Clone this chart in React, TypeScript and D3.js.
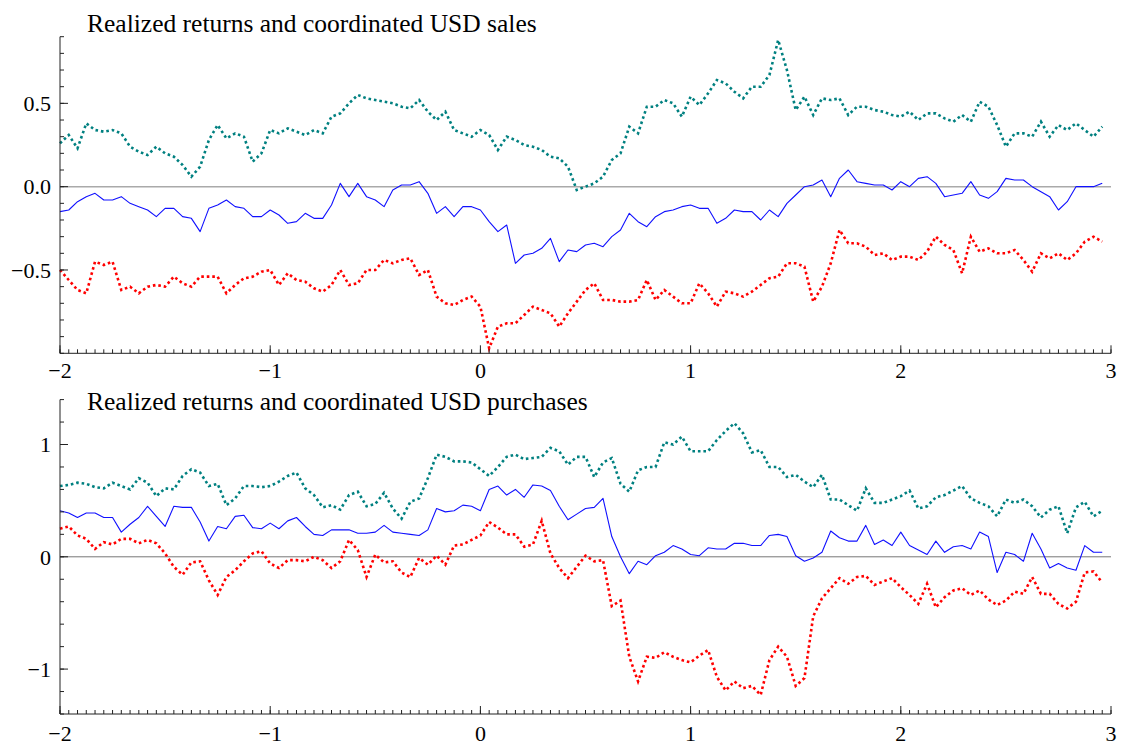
import React from 'react';
import * as d3 from 'd3';

// x grid: -2 .. 3 in steps of 1/24 (120 observations)
const X_START = -2;
const X_STEP = 1 / 24;

const xMajorTicks = [-2, -1, 0, 1, 2, 3];

// ---- Panel 1: USD sales ----
const salesUpper = [
  0.26, 0.31, 0.23, 0.38, 0.34, 0.33, 0.34, 0.32, 0.24, 0.21,
  0.19, 0.24, 0.20, 0.18, 0.13, 0.06, 0.12, 0.28, 0.37, 0.29,
  0.32, 0.30, 0.15, 0.20, 0.34, 0.32, 0.35, 0.33, 0.31, 0.34,
  0.32, 0.42, 0.44, 0.50, 0.55, 0.53, 0.52, 0.51, 0.50, 0.48,
  0.47, 0.52, 0.45, 0.40, 0.45, 0.34, 0.32, 0.30, 0.34, 0.31,
  0.22, 0.30, 0.28, 0.25, 0.24, 0.22, 0.18, 0.17, 0.12, -0.02,
  0.00, 0.02, 0.06, 0.16, 0.20, 0.36, 0.32, 0.48, 0.48, 0.52,
  0.50, 0.42, 0.54, 0.49, 0.56, 0.64, 0.62, 0.57, 0.53, 0.60,
  0.60, 0.67, 0.88, 0.70, 0.46, 0.54, 0.43, 0.53, 0.52, 0.53,
  0.43, 0.48, 0.48, 0.46, 0.45, 0.43, 0.42, 0.45, 0.40, 0.44,
  0.44, 0.41, 0.39, 0.43, 0.39, 0.51, 0.48, 0.37, 0.24, 0.32,
  0.32, 0.30, 0.39, 0.30, 0.37, 0.34, 0.38, 0.34, 0.30, 0.36,
];
const salesMid = [
  -0.15, -0.14, -0.09, -0.06, -0.04, -0.08, -0.08, -0.06, -0.10, -0.12,
  -0.14, -0.18, -0.13, -0.13, -0.18, -0.19, -0.27, -0.13, -0.11, -0.08,
  -0.12, -0.13, -0.18, -0.18, -0.14, -0.17, -0.22, -0.21, -0.16, -0.19,
  -0.19, -0.11, 0.02, -0.06, 0.02, -0.06, -0.08, -0.12, -0.02, 0.01,
  0.01, 0.03, -0.04, -0.16, -0.12, -0.18, -0.12, -0.12, -0.14, -0.21,
  -0.27, -0.23, -0.46, -0.41, -0.40, -0.37, -0.31, -0.45, -0.38, -0.39,
  -0.35, -0.34, -0.36, -0.30, -0.26, -0.16, -0.21, -0.24, -0.18, -0.15,
  -0.14, -0.12, -0.11, -0.13, -0.13, -0.22, -0.19, -0.14, -0.15, -0.15,
  -0.20, -0.14, -0.18, -0.10, -0.05, 0.00, 0.01, 0.04, -0.06, 0.05,
  0.10, 0.03, 0.02, 0.01, 0.01, -0.02, 0.03, 0.00, 0.05, 0.06,
  0.02, -0.06, -0.05, -0.04, 0.03, -0.05, -0.07, -0.03, 0.05, 0.04,
  0.04, 0.00, -0.03, -0.06, -0.14, -0.09, 0.00, 0.00, 0.00, 0.02,
];
const salesLower = [
  -0.50, -0.56, -0.62, -0.64, -0.45, -0.47, -0.45, -0.62, -0.60, -0.64,
  -0.60, -0.59, -0.60, -0.54, -0.58, -0.60, -0.54, -0.54, -0.54, -0.64,
  -0.59, -0.55, -0.54, -0.51, -0.50, -0.59, -0.52, -0.56, -0.57, -0.61,
  -0.63, -0.59, -0.50, -0.59, -0.58, -0.50, -0.50, -0.44, -0.46, -0.44,
  -0.43, -0.53, -0.50, -0.66, -0.70, -0.71, -0.68, -0.66, -0.72, -0.97,
  -0.84, -0.82, -0.82, -0.77, -0.72, -0.74, -0.76, -0.84, -0.76, -0.69,
  -0.62, -0.58, -0.68, -0.68, -0.69, -0.69, -0.68, -0.56, -0.68, -0.62,
  -0.66, -0.70, -0.70, -0.58, -0.64, -0.72, -0.63, -0.64, -0.66, -0.63,
  -0.59, -0.55, -0.54, -0.46, -0.46, -0.48, -0.69, -0.60, -0.46, -0.26,
  -0.34, -0.34, -0.36, -0.41, -0.40, -0.44, -0.42, -0.42, -0.44, -0.39,
  -0.30, -0.35, -0.38, -0.52, -0.30, -0.39, -0.37, -0.40, -0.40, -0.38,
  -0.44, -0.51, -0.40, -0.43, -0.40, -0.44, -0.40, -0.33, -0.30, -0.33,
];

// ---- Panel 2: USD purchases ----
const purchUpper = [
  0.63, 0.64, 0.66, 0.65, 0.62, 0.61, 0.66, 0.63, 0.60, 0.70,
  0.66, 0.54, 0.61, 0.60, 0.72, 0.78, 0.75, 0.63, 0.65, 0.46,
  0.52, 0.63, 0.63, 0.62, 0.63, 0.67, 0.72, 0.75, 0.61, 0.55,
  0.44, 0.46, 0.42, 0.55, 0.58, 0.45, 0.47, 0.57, 0.43, 0.34,
  0.49, 0.52, 0.70, 0.91, 0.89, 0.85, 0.85, 0.84, 0.78, 0.72,
  0.80, 0.89, 0.91, 0.87, 0.88, 0.89, 0.97, 0.94, 0.82, 0.89,
  0.89, 0.71, 0.84, 0.88, 0.65, 0.58, 0.77, 0.80, 0.80, 1.02,
  1.00, 1.07, 0.94, 0.94, 0.94, 1.04, 1.12, 1.19, 1.10, 0.93,
  0.95, 0.80, 0.80, 0.71, 0.73, 0.67, 0.62, 0.73, 0.51, 0.51,
  0.46, 0.41, 0.61, 0.48, 0.48, 0.51, 0.54, 0.59, 0.43, 0.45,
  0.53, 0.55, 0.59, 0.63, 0.52, 0.48, 0.45, 0.36, 0.51, 0.48,
  0.51, 0.45, 0.35, 0.42, 0.45, 0.21, 0.44, 0.49, 0.36, 0.41,
];
const purchMid = [
  0.41, 0.39, 0.35, 0.39, 0.39, 0.35, 0.35, 0.22, 0.29, 0.35,
  0.45, 0.36, 0.27, 0.45, 0.44, 0.44, 0.31, 0.14, 0.27, 0.25,
  0.36, 0.37, 0.26, 0.25, 0.30, 0.25, 0.32, 0.35, 0.27, 0.20,
  0.19, 0.24, 0.24, 0.24, 0.21, 0.21, 0.22, 0.28, 0.22, 0.21,
  0.20, 0.19, 0.24, 0.43, 0.40, 0.41, 0.46, 0.45, 0.41, 0.60,
  0.63, 0.55, 0.60, 0.53, 0.64, 0.63, 0.59, 0.45, 0.33, 0.38,
  0.43, 0.44, 0.52, 0.18, 0.00, -0.15, -0.04, -0.07, 0.01, 0.04,
  0.10, 0.07, 0.02, 0.01, 0.08, 0.07, 0.07, 0.12, 0.12, 0.10,
  0.10, 0.19, 0.20, 0.18, 0.01, -0.04, -0.01, 0.04, 0.23, 0.17,
  0.14, 0.14, 0.28, 0.11, 0.15, 0.10, 0.22, 0.10, 0.06, 0.02,
  0.14, 0.04, 0.09, 0.10, 0.07, 0.22, 0.18, -0.14, 0.04, 0.02,
  -0.04, 0.21, 0.07, -0.10, -0.06, -0.10, -0.12, 0.10, 0.04, 0.04,
];
const purchLower = [
  0.25, 0.27, 0.19, 0.16, 0.07, 0.13, 0.11, 0.16, 0.16, 0.12,
  0.15, 0.12, 0.03, -0.09, -0.16, -0.05, -0.04, -0.21, -0.34, -0.18,
  -0.12, -0.04, 0.03, 0.05, -0.06, -0.10, -0.03, -0.03, -0.04, 0.00,
  -0.03, -0.10, -0.04, 0.15, 0.06, -0.18, 0.02, -0.05, -0.04, -0.14,
  -0.18, -0.01, -0.07, 0.01, -0.07, 0.10, 0.11, 0.15, 0.19, 0.31,
  0.26, 0.20, 0.20, 0.09, 0.11, 0.32, 0.03, -0.10, -0.19, -0.09,
  0.01, -0.04, -0.03, -0.44, -0.39, -0.89, -1.11, -0.89, -0.90, -0.85,
  -0.89, -0.92, -0.94, -0.88, -0.83, -1.07, -1.19, -1.11, -1.17, -1.15,
  -1.23, -0.92, -0.80, -0.89, -1.15, -1.08, -0.53, -0.37, -0.28, -0.19,
  -0.24, -0.18, -0.17, -0.25, -0.22, -0.19, -0.27, -0.34, -0.42, -0.24,
  -0.45, -0.36, -0.30, -0.28, -0.34, -0.30, -0.38, -0.43, -0.39, -0.31,
  -0.33, -0.18, -0.33, -0.33, -0.42, -0.46, -0.40, -0.14, -0.13, -0.23,
];

const salesYMajor = [-0.5, 0, 0.5];
const purchYMajor = [-1, 0, 1];

const FONT = '"Liberation Serif", "Times New Roman", Times, serif';
const AXIS = '#222';
const TEAL = '#008080';
const BLUE = '#1010ff';
const RED = '#ff0000';

const xScale = d3.scaleLinear().domain([-2, 3]).range([60, 1111]);

type Panel = {
  title: string;
  titleY: number;
  yDomain: [number, number];
  yRange: [number, number];
  major: number[];
  minorStep: number;
  fmt: (v: number) => string;
  upper: number[];
  mid: number[];
  lower: number[];
  labelY: number;
  zeroColor: string;
  zeroWidth: number;
};

const panels: Panel[] = [
  {
    title: 'Realized returns and coordinated USD sales',
    titleY: 32,
    yDomain: [-1, 0.9],
    yRange: [353.3, 36.7],
    major: salesYMajor,
    minorStep: 0.1,
    fmt: d3.format('.1f'),
    upper: salesUpper,
    mid: salesMid,
    lower: salesLower,
    labelY: 378,
    zeroColor: '#aaaaaa',
    zeroWidth: 1.5,
  },
  {
    title: 'Realized returns and coordinated USD purchases',
    titleY: 410,
    yDomain: [-1.4, 1.4],
    yRange: [714, 399.6],
    major: purchYMajor,
    minorStep: 0.2,
    fmt: d3.format('d'),
    upper: purchUpper,
    mid: purchMid,
    lower: purchLower,
    labelY: 741,
    zeroColor: '#777777',
    zeroWidth: 1,
  },
];

function steps(lo: number, hi: number, step: number): number[] {
  const n = Math.round((hi - lo) / step);
  return d3.range(n + 1).map((k) => +(lo + k * step).toFixed(6));
}

function PanelView({ p }: { p: Panel }) {
  const y = d3.scaleLinear().domain(p.yDomain).range(p.yRange);
  const [x0, x1] = xScale.range();
  const yBottom = y(p.yDomain[0]);
  const yTop = y(p.yDomain[1]);
  const line = d3
    .line<number>()
    .x((_, i) => xScale(X_START + i * X_STEP))
    .y((v) => y(v));
  const xMinor = steps(-2, 3, X_STEP);
  const yMinor = steps(p.yDomain[0], p.yDomain[1], p.minorStep);
  return (
    <g>
      <text x={87} y={p.titleY} fontFamily={FONT} fontSize={25.5} fill="#000">
        {p.title}
      </text>
      {/* zero line */}
      <line x1={x0} x2={x1} y1={y(0)} y2={y(0)} stroke={p.zeroColor} strokeWidth={p.zeroWidth} />
      {/* series */}
      <path d={line(p.upper) || ''} fill="none" stroke={TEAL} strokeWidth={2.6} strokeDasharray="2.6 2.9" />
      <path d={line(p.lower) || ''} fill="none" stroke={RED} strokeWidth={2.6} strokeDasharray="2.6 2.9" />
      <path d={line(p.mid) || ''} fill="none" stroke={BLUE} strokeWidth={1.1} strokeLinejoin="round" />
      {/* axes */}
      <line x1={x0} x2={x0} y1={yTop} y2={yBottom} stroke={AXIS} strokeWidth={1} />
      <line x1={x0} x2={x1} y1={yBottom} y2={yBottom} stroke={AXIS} strokeWidth={1} />
      {xMinor.map((t, i) => (
        <line key={'xm' + i} x1={xScale(t)} x2={xScale(t)} y1={yBottom} y2={yBottom - 4} stroke={AXIS} strokeWidth={1} />
      ))}
      {xMajorTicks.map((t) => (
        <g key={'xM' + t}>
          <line x1={xScale(t)} x2={xScale(t)} y1={yBottom} y2={yBottom - 8} stroke={AXIS} strokeWidth={1} />
          <text x={xScale(t)} y={p.labelY} textAnchor="middle" fontFamily={FONT} fontSize={22} fill="#000">
            {d3.format('d')(t)}
          </text>
        </g>
      ))}
      {yMinor.map((t, i) => (
        <line key={'ym' + i} x1={x0} x2={x0 + 4} y1={y(t)} y2={y(t)} stroke={AXIS} strokeWidth={1} />
      ))}
      {p.major.map((t) => (
        <g key={'yM' + t}>
          <line x1={x0} x2={x0 + 8} y1={y(t)} y2={y(t)} stroke={AXIS} strokeWidth={1} />
          <text x={51} y={y(t)} dy="0.35em" textAnchor="end" fontFamily={FONT} fontSize={22} fill="#000">
            {p.fmt(t)}
          </text>
        </g>
      ))}
    </g>
  );
}

export default function App() {
  return (
    <svg
      width={1126}
      height={747}
      style={{ position: 'absolute', left: 0, top: 0, display: 'block', background: '#fff' }}
    >
      <rect width={1126} height={747} fill="#fff" />
      {panels.map((p, i) => (
        <PanelView key={i} p={p} />
      ))}
    </svg>
  );
}
